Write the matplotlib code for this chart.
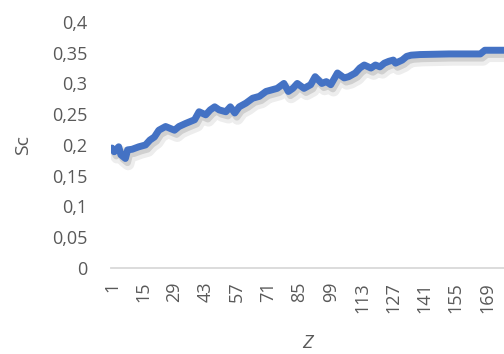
import matplotlib
matplotlib.use("Agg")
import matplotlib.pyplot as plt
import matplotlib.patheffects as pe
from matplotlib.ticker import FuncFormatter

# data (Z category, Sc value)
z = [1, 2, 4, 5, 7, 8, 10, 13, 16, 18, 20, 22, 25, 27, 29, 31, 34, 36, 38, 40,
     43, 45, 47, 49, 52, 54, 56, 58, 61, 64, 67, 70, 72, 75, 78, 80, 82, 84, 87,
     90, 92, 95, 97, 99, 102, 105, 107, 110, 112, 114, 117, 119, 121, 123, 125,
     127, 128, 131, 133, 135, 139, 152, 166, 168, 182]
sc = [0.195, 0.189, 0.197, 0.184, 0.178, 0.192, 0.193, 0.197, 0.200, 0.208,
      0.213, 0.224, 0.230, 0.227, 0.224, 0.230, 0.235, 0.238, 0.241, 0.254,
      0.249, 0.257, 0.262, 0.257, 0.254, 0.262, 0.252, 0.262, 0.268, 0.276,
      0.279, 0.287, 0.289, 0.292, 0.300, 0.287, 0.292, 0.300, 0.292, 0.298,
      0.311, 0.300, 0.303, 0.298, 0.317, 0.309, 0.311, 0.317, 0.325, 0.330,
      0.325, 0.330, 0.327, 0.333, 0.336, 0.338, 0.333, 0.338, 0.344, 0.346,
      0.347, 0.348, 0.348, 0.354, 0.354]
xticks = list(range(1, 170, 14))
yticks = [0, 0.05, 0.1, 0.15, 0.2, 0.25, 0.3, 0.35, 0.4]

plt.rcParams['font.family'] = ['Open Sans', 'DejaVu Sans']
grey = '#595959'

fig = plt.figure(figsize=(5.04, 3.54), dpi=100)
ax = fig.add_axes([0.22, 0.243, 0.78, 0.695])

ax.plot(z, sc, color='#4472C4', lw=5, solid_capstyle='round', solid_joinstyle='round',
        path_effects=[pe.SimpleLineShadow(offset=(2, -4), shadow_color='k', alpha=0.07, linewidth=9),
                      pe.SimpleLineShadow(offset=(1.5, -3), shadow_color='k', alpha=0.12),
                      pe.Normal()])

ax.set_xlim(0.5, 176.6)
ax.set_ylim(0, 0.4)
ax.set_xticks(xticks)
ax.set_yticks(yticks)
ax.yaxis.set_major_formatter(FuncFormatter(lambda v, p: ('%g' % v).replace('.', ',')))
ax.tick_params(axis='x', length=0, pad=10, labelrotation=90, labelsize=13, colors=grey)
ax.tick_params(axis='y', length=0, pad=17, labelsize=13, colors=grey)

for s in ['top', 'right', 'left']:
    ax.spines[s].set_visible(False)
ax.spines['bottom'].set_color('#D9D9D9')
ax.spines['bottom'].set_linewidth(1.3)

ax.set_ylabel('Sc', fontsize=14, color=grey, labelpad=14)
ax.set_xlabel('Z', fontsize=14, color=grey, style='italic', labelpad=15)

fig.savefig('out.png', dpi=100)
